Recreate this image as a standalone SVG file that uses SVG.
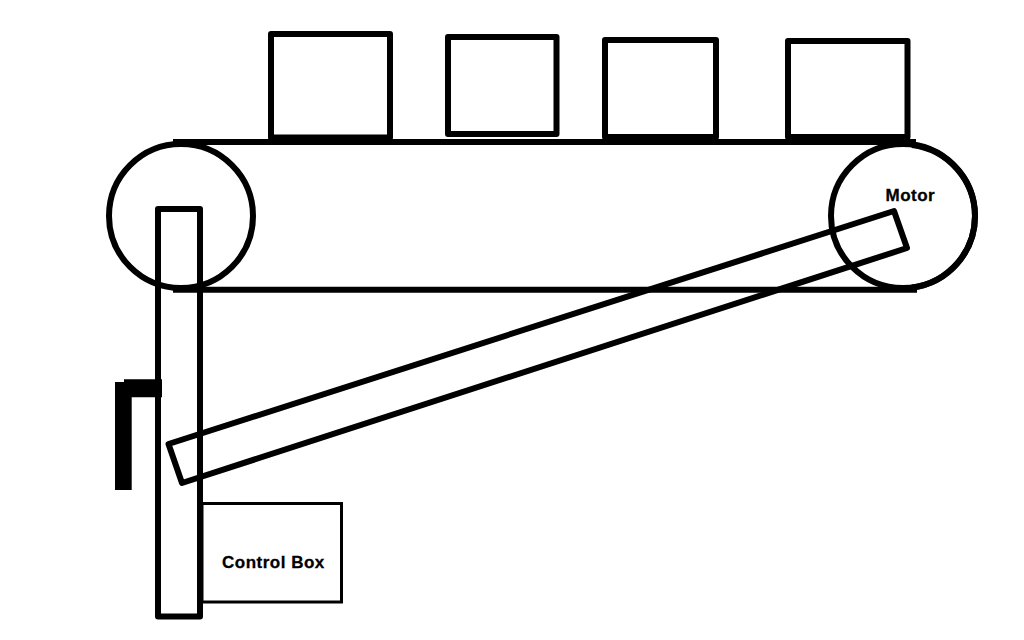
<svg xmlns="http://www.w3.org/2000/svg" width="1024" height="640" viewBox="0 0 1024 640">
<style>
.s{fill:none;stroke:#000;stroke-width:6;stroke-linejoin:round}
.t{font-family:"Liberation Sans",Arial,sans-serif;font-weight:bold;font-size:17px;letter-spacing:.5px;fill:#000;stroke:#000;stroke-width:.3px}
</style>
<rect width="1024" height="640" fill="#fff"/>
<g id="belt">
<path class="s" d="M173 142H916"/>
<path class="s" d="M173 289.700H917"/>
</g>
<g id="left-roller"><circle class="s" cx="181" cy="216" r="72"/></g>
<g id="right-roller"><circle class="s" cx="903" cy="216" r="72"/>
<path class="s" d="M912 145A72 72 0 0 1 975 216A72 72 0 0 1 912 287.500"/></g>
<g id="box-1"><rect class="s" x="271" y="34" width="119" height="103.500"/></g>
<g id="box-2"><rect class="s" x="448" y="37" width="108.500" height="97"/></g>
<g id="box-3"><rect class="s" x="605" y="40" width="111" height="97"/></g>
<g id="box-4"><rect class="s" x="788" y="41" width="119.500" height="96"/></g>
<g id="post"><rect class="s" x="158" y="209" width="42" height="407.500"/></g>
<g id="handle">
<path d="M115 382H124V379.300H162V397.300H131.700V490H115Z" fill="#000"/>
</g>
<g id="control-box">
<rect x="202" y="503.500" width="139.500" height="98.500" fill="none" stroke="#000" stroke-width="3"/>
<text class="t" x="222" y="568">Control Box</text>
</g>
<g id="motor-label"><text class="t" x="885.500" y="200.500">Motor</text></g>
<g id="connectors">
<path class="s" d="M168.500 444L182 483L907 248L894 211Z"/>
</g>
</svg>
